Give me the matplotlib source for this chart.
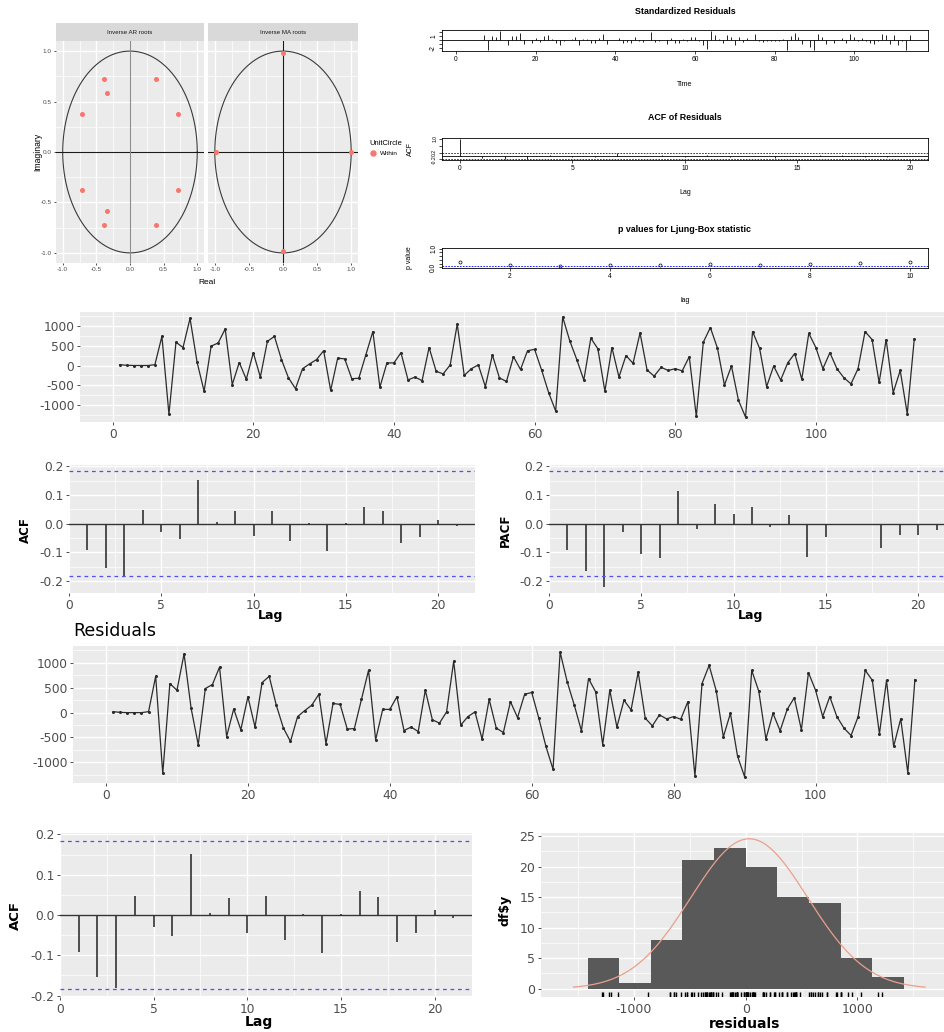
import numpy as np
import matplotlib
matplotlib.use('Agg')
import matplotlib.pyplot as plt
from matplotlib.lines import Line2D

plt.rcParams['axes.unicode_minus'] = False

W, H = 945, 1032

# inverse AR / MA roots
ar_re = [0.38, 0.38, -0.39, -0.39, -0.34, -0.34, -0.72, -0.72, 0.71, 0.71]
ar_im = [0.72, -0.72, 0.72, -0.72, 0.58, -0.58, 0.38, -0.38, 0.38, -0.38]
ma_re = [0.0, 0.0, -0.99, 0.99]
ma_im = [0.98, -0.98, 0.0, 0.0]

# residual series (t = 1..114)
resid = [20, 5, 0, 0, 0, 20, 730, -1222, 584, 450,
         1180, 85, -645, 485, 565, 915, -480, 75, -345, 320,
         -290, 605, 730, 150, -310, -580, -80, 40, 150, 370,
         -625, 185, 165, -330, -320, 265, 850, -545, 65, 65,
         320, -360, -290, -380, 450, -145, -210, 15, 1035, -250,
         -80, 15, -530, 265, -310, -400, 220, -100, 370, 405,
         -113, -680, -1140, 1215, 620, 150, -365, 685, 420, -645,
         450, -290, 250, 55, 815, -113, -265, -45, -125, -80,
         -133, 220, -1275, 585, 950, 440, -490, -13, -875, -1290,
         850, 430, -530, -13, -365, 65, 300, -345, 805, 450,
         -80, 320, -80, -310, -460, -80, 850, 650, -425, 650,
         -680, -125, -1210, 665]

# ACF / PACF of residuals, lags 1..21
acf_vals = [-0.093, -0.153, -0.182, 0.048, -0.029, -0.052, 0.151, 0.005, 0.043, -0.044,
            0.046, -0.061, 0.003, -0.095, 0.002, 0.059, 0.045, -0.066, -0.045, 0.013, -0.008]
pacf_vals = [-0.093, -0.164, -0.222, -0.029, -0.107, -0.121, 0.115, -0.017, 0.068, 0.033,
             0.060, -0.013, 0.030, -0.116, -0.047, 0.0, -0.003, -0.086, -0.040, -0.041, -0.021]
ci_level = 0.184

# Ljung-Box p-values, lags 1..10
lb_p = [0.31, 0.135, 0.047, 0.099, 0.135, 0.20, 0.099, 0.17, 0.256, 0.31]

# histogram of residuals
hist_start = -1415
bin_width = 283
hist_counts = [5, 1, 8, 21, 23, 20, 15, 14, 5, 2]

t = np.arange(1, len(resid) + 1)
lags = np.arange(1, len(acf_vals) + 1)
mu = np.mean(resid)
sd = np.std(resid, ddof=1)

fig = plt.figure(figsize=(W / 100, H / 100), dpi=100)
fig.patch.set_facecolor('white')


def px_axes(x0, y0, x1, y1):
    return fig.add_axes([x0 / W, 1 - y1 / H, (x1 - x0) / W, (y1 - y0) / H])


def px_text(x, y, s, **kw):
    fig.text(x / W, 1 - y / H, s, **kw)


def gg_panel(ax, size, family='DejaVu Sans', ticklen=2.5):
    ax.set_facecolor('#EBEBEB')
    for sp in ax.spines.values():
        sp.set_visible(False)
    ax.grid(True, which='major', color='white', lw=1.0)
    ax.grid(True, which='minor', color='white', lw=0.5)
    ax.set_axisbelow(True)
    ax.tick_params(which='major', length=ticklen, width=0.6, color='#333333',
                   labelcolor='#4D4D4D', labelsize=size, pad=1.5, labelfontfamily=family)
    ax.tick_params(which='minor', length=0)


def r_panel(ax, ysize=4.8):
    for sp in ax.spines.values():
        sp.set_linewidth(0.6)
    ax.tick_params(length=2, width=0.5, labelsize=4.8, pad=1.5, labelfontfamily='Liberation Sans')
    ax.tick_params(axis='y', labelrotation=90, labelsize=ysize)
    for lab in ax.get_yticklabels():
        lab.set_va('center')


# ---- unit circle facets (top left) ----
theta = np.linspace(0, 2 * np.pi, 361)
salmon = '#F8766D'
panels = [(56, 204, 'Inverse AR roots', ar_re, ar_im, '#8C8C8C'),
          (208, 358, 'Inverse MA roots', ma_re, ma_im, '#1A1A1A')]
root_axes = []
for x0, x1, title, re, im, vcol in panels:
    ax = px_axes(x0, 41, x1, 263)
    gg_panel(ax, 4.6, family='Liberation Sans', ticklen=1.5)
    ax.plot(np.cos(theta), np.sin(theta), color='#3A3A3A', lw=0.8)
    ax.axhline(0, color='#1A1A1A', lw=0.8)
    ax.axvline(0, color=vcol, lw=0.8)
    ax.scatter(re, im, s=13, color=salmon, zorder=3, label='Within', linewidths=0)
    ax.set_xlim(-1.1, 1.1)
    ax.set_ylim(-1.1, 1.1)
    ax.set_xticks([-1, -0.5, 0, 0.5, 1])
    ax.set_xticklabels(['-1.0', '-0.5', '0.0', '0.5', '1.0'])
    ax.set_xticks([-0.75, -0.25, 0.25, 0.75], minor=True)
    ax.set_yticks([-1, -0.5, 0, 0.5, 1])
    ax.set_yticks([-0.75, -0.25, 0.25, 0.75], minor=True)
    if x0 == 56:
        ax.set_yticklabels(['-1.0', '-0.5', '0.0', '0.5', '1.0'])
    else:
        ax.tick_params(axis='y', left=False, labelleft=False)
    strip = px_axes(x0, 23, x1, 41)
    strip.set_facecolor('#D9D9D9')
    strip.set_xticks([])
    strip.set_yticks([])
    for sp in strip.spines.values():
        sp.set_visible(False)
    strip.text(0.5, 0.5, title, ha='center', va='center', fontsize=4.4,
               color='#1A1A1A', family='Liberation Sans')
    root_axes.append(ax)

px_text(207, 283, 'Real', ha='center', va='center', fontsize=6, family='Liberation Sans')
px_text(38, 152, 'Imaginary', ha='center', va='center', rotation=90, fontsize=6.2,
        family='Liberation Sans')
handle = Line2D([], [], marker='o', ls='', color=salmon, ms=3.6)
leg = root_axes[0].legend(handles=[handle], labels=['Within'], title='UnitCircle',
                          loc='upper left', bbox_to_anchor=(365 / W, 1 - 136 / H),
                          bbox_transform=fig.transFigure, frameon=False,
                          prop={'family': 'Liberation Sans', 'size': 4.6},
                          handlelength=1.2, handletextpad=0.4, borderpad=0.2)
leg.get_title().set_fontsize(5.4)
leg.get_title().set_family('Liberation Sans')
leg._legend_box.align = 'left'

# ---- tsdiag panels (top right) ----
std_resid = np.array(resid) / sd
ax = px_axes(442, 30, 928, 51)
ax.vlines(t, 0, std_resid, color='black', lw=0.6)
ax.axhline(0, color='black', lw=0.6)
ax.margins(x=0.04, y=0.04)
ax.set_xticks([0, 20, 40, 60, 80, 100])
ax.set_yticks([-2, -1, 0, 1, 2])
ax.set_yticklabels(['-2', '', '', '1', ''])
r_panel(ax)
px_text(685, 11, 'Standardized Residuals', ha='center', va='center', fontsize=6.4,
        fontweight='bold', family='Liberation Sans')
px_text(685, 84, 'Time', ha='center', va='center', fontsize=5, family='Liberation Sans')

lag0 = np.arange(0, 21)
acf0 = [1.0] + acf_vals[:20]
ax = px_axes(442, 138, 928, 160)
ax.vlines(lag0, 0, acf0, color='black', lw=0.6)
ax.axhline(0, color='black', lw=0.6)
ax.axhline(ci_level, color='blue', ls='--', lw=0.6, dashes=(2, 1.5))
ax.axhline(-ci_level, color='blue', ls='--', lw=0.6, dashes=(2, 1.5))
ax.margins(x=0.04, y=0.04)
ax.set_xticks([0, 5, 10, 15, 20])
ax.set_yticks([-0.2, 0.2, 0.6, 1.0])
ax.set_yticklabels(['-0.2', '0.2', '', '1.0'])
r_panel(ax, ysize=3.6)
px_text(685, 117, 'ACF of Residuals', ha='center', va='center', fontsize=6.4,
        fontweight='bold', family='Liberation Sans')
px_text(685, 193, 'Lag', ha='center', va='center', fontsize=5, family='Liberation Sans')
px_text(410, 149, 'ACF', ha='center', va='center', rotation=90, fontsize=5,
        family='Liberation Sans')

lb_lags = np.arange(1, len(lb_p) + 1)
ax = px_axes(442, 248, 928, 268)
ax.plot(lb_lags, lb_p, 'o', mfc='none', mec='black', ms=2.2, mew=0.5)
ax.axhline(0.05, color='blue', ls='--', lw=0.6, dashes=(2, 1.5))
ax.set_ylim(-0.04, 1.04)
ax.margins(x=0.04)
ax.set_xticks([2, 4, 6, 8, 10])
ax.set_yticks([0, 0.2, 0.4, 0.6, 0.8, 1.0])
ax.set_yticklabels(['0.0', '', '', '', '', '1.0'])
r_panel(ax)
px_text(685, 229, 'p values for Ljung-Box statistic', ha='center', va='center',
        fontsize=6.4, fontweight='bold', family='Liberation Sans')
px_text(685, 300, 'lag', ha='center', va='center', fontsize=5, family='Liberation Sans')
px_text(410, 258, 'p value', ha='center', va='center', rotation=90, fontsize=5,
        family='Liberation Sans')


def series_panel(ax):
    ax.plot(t, resid, color='#2B2B2B', lw=0.9, marker='o', ms=1.2)
    ax.margins(x=0.05, y=0.05)
    ax.set_xticks([0, 20, 40, 60, 80, 100])
    ax.set_xticks([10, 30, 50, 70, 90, 110], minor=True)
    ax.set_yticks([-1000, -500, 0, 500, 1000])
    ax.set_yticks([-1250, -750, -250, 250, 750, 1250], minor=True)
    gg_panel(ax, 8.8)


def acf_panel(ax, vals, ylim):
    ax.axhline(0, color='#333333', lw=1.0)
    ax.vlines(lags, 0, vals, color='#333333', lw=1.2)
    ax.axhline(ci_level, color='#5050F5', ls='--', lw=0.9, dashes=(3, 3))
    ax.axhline(-ci_level, color='#5050F5', ls='--', lw=0.9, dashes=(3, 3))
    ax.set_xlim(0, 22)
    ax.set_ylim(*ylim)
    ax.set_xticks([0, 5, 10, 15, 20])
    ax.set_xticks([2.5, 7.5, 12.5, 17.5], minor=True)
    ax.set_yticks([-0.2, -0.1, 0.0, 0.1, 0.2])
    ax.set_yticklabels(['-0.2', '-0.1', '0.0', '0.1', '0.2'])
    ax.set_yticks([-0.15, -0.05, 0.05, 0.15], minor=True)
    gg_panel(ax, 8.8)


# ---- first residual series ----
ax = px_axes(80, 312, 954, 422)
series_panel(ax)

# ---- ACF / PACF row ----
ax = px_axes(69, 465, 475, 593)
acf_panel(ax, acf_vals, (-0.242, 0.205))
ax = px_axes(549, 465, 955, 593)
acf_panel(ax, pacf_vals, (-0.242, 0.205))
px_text(25, 530, 'ACF', ha='center', va='center', rotation=90, fontsize=8.5, fontweight='bold')
px_text(505, 530, 'PACF', ha='center', va='center', rotation=90, fontsize=8.5, fontweight='bold')
px_text(271, 616, 'Lag', ha='center', va='center', fontsize=9, fontweight='bold')
px_text(751, 616, 'Lag', ha='center', va='center', fontsize=9, fontweight='bold')

# ---- Residuals ----
ax = px_axes(73, 646, 955, 783)
series_panel(ax)
px_text(73, 631, 'Residuals', ha='left', va='center', fontsize=12.5)

# ---- bottom ACF ----
ax = px_axes(60, 833, 472, 997)
acf_panel(ax, acf_vals, (-0.2035, 0.2035))
px_text(15, 915, 'ACF', ha='center', va='center', rotation=90, fontsize=9.5, fontweight='bold')
px_text(259, 1022, 'Lag', ha='center', va='center', fontsize=10, fontweight='bold')

# ---- histogram ----
ax = px_axes(541, 833, 945, 997)
lefts = hist_start + bin_width * np.arange(len(hist_counts))
ax.bar(lefts, hist_counts, width=bin_width, align='edge', color='#595959', edgecolor='none')
xs = np.linspace(mu - 3 * sd, mu + 3 * sd, 300)
dens = len(resid) * bin_width * np.exp(-0.5 * ((xs - mu) / sd) ** 2) / (sd * np.sqrt(2 * np.pi))
ax.plot(xs, dens, color='#E9A08C', lw=0.9)
ax.vlines(resid, 0, 0.03, transform=ax.get_xaxis_transform(), color='black', lw=1.0)
ax.set_xlim(-1832, 1783)
ax.set_ylim(-1.35, 25.5)
ax.set_xticks([-1000, 0, 1000])
ax.set_xticks([-1500, -500, 500, 1500], minor=True)
ax.set_yticks([0, 5, 10, 15, 20, 25])
ax.set_yticks([2.5, 7.5, 12.5, 17.5, 22.5], minor=True)
gg_panel(ax, 9)
px_text(505, 910, 'df\\$y', ha='center', va='center', rotation=90, fontsize=9, fontweight='bold')
px_text(745, 1024, 'residuals', ha='center', va='center', fontsize=10, fontweight='bold')

fig.savefig('out.png', dpi=100)
